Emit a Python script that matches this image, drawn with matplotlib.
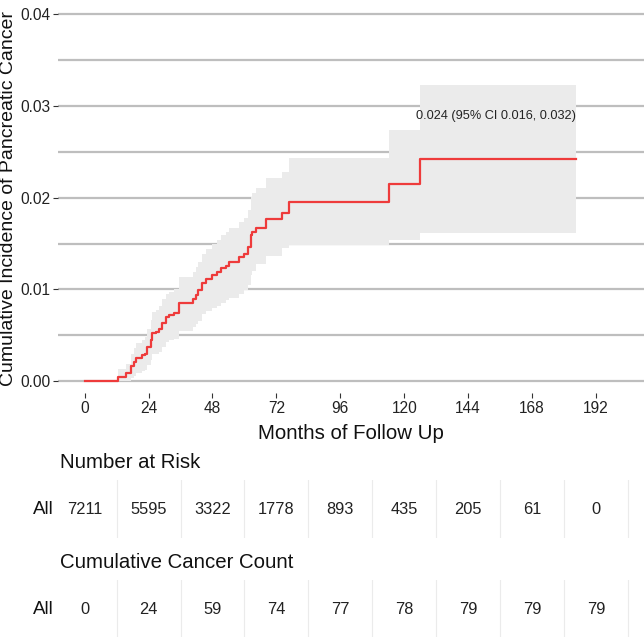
import matplotlib
matplotlib.use("Agg")
import matplotlib.pyplot as plt
import numpy as np

plt.rcParams['font.family'] = ['Liberation Sans', 'DejaVu Sans']

# ---- data ----
step_months = [0, 12.7, 15.5, 17.3, 18.6, 19.4, 21.7, 22.7, 23.6, 24.8, 25.4, 26.7, 28.0, 29.2,
               30.5, 31.7, 33.6, 35.5, 40.5, 41.7, 42.7, 44.2, 45.5, 48.0, 49.8, 51.1, 53.0,
               54.2, 58.0, 60.0, 61.2, 62.4, 63.0, 64.3, 68.0, 74.2, 76.7, 114.4, 125.9, 184.3]
step_values = [0, 0.00047, 0.0009, 0.0016, 0.0021, 0.0025, 0.0028, 0.0030, 0.0037, 0.0045,
               0.0052, 0.0054, 0.0057, 0.0063, 0.0070, 0.0072, 0.0074, 0.0085, 0.0090, 0.0094,
               0.0099, 0.0107, 0.0111, 0.0116, 0.0119, 0.0123, 0.0126, 0.0130, 0.0135, 0.0139,
               0.0146, 0.0159, 0.0163, 0.0167, 0.0177, 0.0183, 0.0195, 0.0215, 0.0242, 0.0242]
ci_lower = [0, 0, 0, 0.0003, 0.0006, 0.0009, 0.0011, 0.0012, 0.0017, 0.0023, 0.0029, 0.0030,
            0.0032, 0.0037, 0.0043, 0.0045, 0.0046, 0.0055, 0.0059, 0.0062, 0.0066, 0.0073,
            0.0076, 0.0080, 0.0082, 0.0085, 0.0088, 0.0091, 0.0095, 0.0099, 0.0105, 0.0116,
            0.0120, 0.0128, 0.0136, 0.0145, 0.0148, 0.0154, 0.0161, 0.0161]
ci_upper = [0, 0.0013, 0.0019, 0.0029, 0.0036, 0.0041, 0.0045, 0.0048, 0.0057, 0.0067, 0.0075,
            0.0078, 0.0082, 0.0089, 0.0095, 0.0097, 0.0100, 0.0113, 0.0119, 0.0124, 0.0130,
            0.0139, 0.0144, 0.0150, 0.0154, 0.0159, 0.0162, 0.0167, 0.0173, 0.0178, 0.0186,
            0.0201, 0.0205, 0.0210, 0.0221, 0.0228, 0.0243, 0.0274, 0.0323, 0.0323]

annotation = "0.024 (95% CI 0.016, 0.032)"
annot_month = 184.3
annot_value = 0.0289

x_ticks = [0, 24, 48, 72, 96, 120, 144, 168, 192]
y_ticks = [0.00, 0.01, 0.02, 0.03, 0.04]
y_ticklabels = ["0.00", "0.01", "0.02", "0.03", "0.04"]

risk_strata = "All"
number_at_risk = [7211, 5595, 3322, 1778, 893, 435, 205, 61, 0]
cumulative_count = [0, 24, 59, 74, 77, 78, 79, 79, 79]

# ---- layout ----
W, H = 644, 637
fig = plt.figure(figsize=(W / 100, H / 100), dpi=100)

def rect(x0, y0, x1, y1):
    # pixel box (top-left origin) -> figure fraction
    return [x0 / W, 1 - y1 / H, (x1 - x0) / W, (y1 - y0) / H]

XLIM = (-10, 210)
grid_col = "#BEBEBE"
red = "#EE3B3B"
title_fs = 14.7

ax = fig.add_axes(rect(58, 0, 644, 393))
ax.set_xlim(*XLIM)
ax.set_ylim(-0.0013, 0.04155)
for s in ax.spines.values():
    s.set_visible(False)
for yv in np.arange(0, 0.0401, 0.005):
    ax.axhline(yv, color=grid_col, lw=1.6, zorder=0)

ax.fill_between(step_months, ci_lower, ci_upper, step="post", color="#EBEBEB",
                lw=0, zorder=1)
ax.step(step_months, step_values, where="post", color=red, lw=1.6, zorder=3)
ax.text(annot_month, annot_value, annotation, ha="right", va="center", fontsize=9.2,
        color="#222222", zorder=4)

ax.set_xticks(x_ticks)
ax.set_xticklabels([str(t) for t in x_ticks])
ax.set_yticks(y_ticks)
ax.set_yticklabels(y_ticklabels)
ax.tick_params(axis="both", length=3.5, width=0.8, color="#333333", labelsize=11.2,
               labelcolor="#222222", pad=2)
ax.set_xlabel("Months of Follow Up", fontsize=title_fs, labelpad=6, color="#111111")
ax.set_ylabel("Cumulative Incidence of Pancreatic Cancer", fontsize=14.0, color="#111111")
ax.yaxis.set_label_coords((17 - 58) / 586, (393 - 198) / 393)

def table(y0, y1, values, title, title_y):
    t = fig.add_axes(rect(58, y0, 644, y1))
    t.set_xlim(*XLIM)
    t.set_ylim(0, 1)
    t.axis("off")
    for xm in range(12, 210, 24):
        t.axvline(xm, color="#EBEBEB", lw=0.8, zorder=0)
    for xm, v in zip(x_ticks, values):
        t.text(xm, 0.5, str(v), ha="center", va="center", fontsize=11.8, color="#222222")
    fig.text(54 / W, 1 - ((y0 + y1) / 2) / H, risk_strata, ha="right", va="center",
             fontsize=13.5, color="#111111")
    fig.text(60 / W, 1 - title_y / H, title, ha="left", va="center", fontsize=title_fs,
             color="#111111")

table(480, 538, number_at_risk, "Number at Risk", 463)
table(580, 640, cumulative_count, "Cumulative Cancer Count", 563)

fig.savefig("out.png", dpi=100, facecolor="white")
